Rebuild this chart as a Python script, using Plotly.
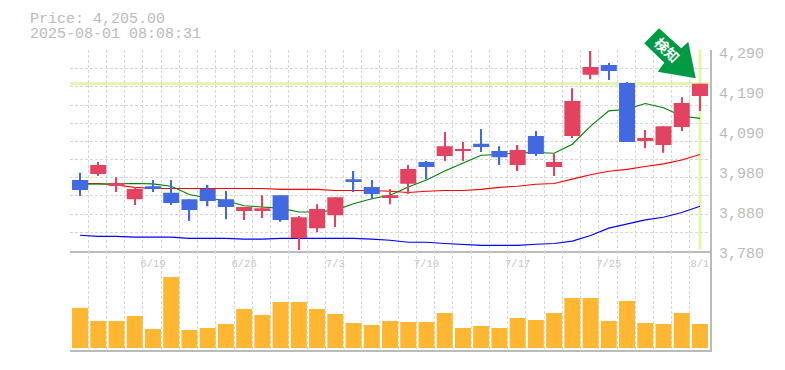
import plotly.graph_objects as go

dates = ["6/13","6/16","6/17","6/18","6/19","6/20","6/23","6/24","6/25","6/26","6/27","6/30",
         "7/1","7/2","7/3","7/4","7/7","7/8","7/9","7/10","7/11","7/14","7/15","7/16","7/17","7/18",
         "7/22","7/23","7/24","7/25","7/28","7/29","7/30","7/31","8/1"]
opens = [3960,3975,3947,3911,3944,3927,3911,3937,3911,3881,3881,3921,3812,3837,3870,3962,3942,3916,3950,4006,
         4021,4036,4052,4034,3998,4072,3993,4072,4228,4253,4207,4059,4049,4095,4174]
highs = [3978,4006,3967,3942,3960,3960,3911,3947,3932,3891,3921,3921,3868,3898,3916,3983,3960,3937,3998,4008,
         4082,4057,4090,4046,4049,4085,4026,4194,4289,4258,4210,4087,4097,4171,4205]
lows = [3919,3970,3929,3896,3929,3896,3855,3893,3860,3858,3863,3853,3781,3827,3840,3929,3911,3898,3924,3962,
        4008,4008,4031,3998,3983,4021,3970,4067,4217,4215,4057,4041,4029,4085,4136]
closes = [3934,3998,3952,3937,3937,3901,3883,3906,3891,3891,3888,3858,3865,3886,3916,3957,3924,3921,3988,3993,
          4046,4039,4044,4018,4036,4026,4006,4161,4248,4238,4057,4067,4097,4156,4205]
ma_short = [3949,3949,3950,3951,3950,3944,3923,3914,3907,3894,3891,3888,3878,3878,3883,3899,3912,3921,3942,3960,
            3983,4002,4023,4025,4029,4030,4028,4051,4097,4136,4140,4155,4144,4123,4117]
ma_mid = [3951,3951,3947,3941,3938,3938,3938,3938,3938,3938,3938,3936,3936,3936,3933,3933,3933,3931,3928,3931,
          3933,3933,3936,3941,3944,3949,3951,3962,3973,3982,3987,3994,4001,4011,4025]
ma_long = [3819,3816,3816,3814,3814,3814,3811,3811,3811,3809,3809,3811,3811,3811,3811,3811,3809,3806,3801,3801,
           3798,3796,3793,3793,3793,3796,3798,3804,3818,3837,3848,3858,3865,3877,3893]
volumes = [40,27,27,32,19,71,18,20,24,39,33,46,46,39,34,25,23,27,26,26,35,20,22,20,30,28,35,50,50,27,47,25,24,35,24]
tick_dates = ["6/19","6/26","7/3","7/10","7/17","7/25","8/1"]
price_ticks = [4290,4188,4086,3984,3882,3780]
price_labels = ["4,290","4,190","4,090","3,980","3,880","3,780"]
last_price = 4205
title_lines = ["Price: 4,205.00","2025-08-01 08:08:31"]
badge = "検知"

GRID="#d6d6d6"; FRAME="#bbbbbb"; TXT="#bbbbbb"; MONO="Liberation Mono"
UP="#e34360"; DOWN="#4169e1"; VOL="#ffb733"; MARK="#e2f5a8"

OFF=8                       # the page's own body margin
W,H=785-OFF,370-OFF
L,R,T,B=70-OFF,75,50-OFF,20
PW=W-L-R; PH=H-T-B
split=(350-250.5)/PH
n=len(dates)
x=list(range(n))
xr=[-0.55,n-1+0.55]
yr=[3780,4291.3]
minor_x=[i-0.55 for i in x]
minor_y=[3780+k*510/11 for k in range(12)]
colors=[UP if c>=o else DOWN for o,c in zip(opens,closes)]

fig=go.Figure()
for vals,col in [(ma_long,"#0000ff"),(ma_mid,"#ff0000"),(ma_short,"#008000")]:
    fig.add_trace(go.Scatter(x=x,y=vals,mode="lines",line=dict(color=col,width=1.1),xaxis="x",yaxis="y",hoverinfo="skip"))
fig.add_trace(go.Bar(x=x,y=[h-l for h,l in zip(highs,lows)],base=lows,width=1.4/18.235,
    marker=dict(color=colors,line=dict(width=0)),xaxis="x",yaxis="y3",hoverinfo="skip"))
fig.add_trace(go.Bar(x=x,y=[abs(c-o) for o,c in zip(opens,closes)],base=[min(o,c) for o,c in zip(opens,closes)],width=16/18.235,
    marker=dict(color=colors,line=dict(width=0)),xaxis="x",yaxis="y3",
    customdata=list(zip(opens,highs,lows,closes)),hovertemplate="O %{customdata[0]} H %{customdata[1]} L %{customdata[2]} C %{customdata[3]}<extra></extra>"))
fig.add_trace(go.Bar(x=x,y=volumes,marker=dict(color=VOL,line=dict(width=0)),width=16/18.235,xaxis="x2",yaxis="y2"))

def px(p): return (p-70)/PW
def py(p): return (350-p)/PH
arrow=[(659,28.3),(644.3,43.3),(664.3,62.7),(657.7,71.7),(695.7,78.3),(688.3,41.7),(681.3,48.3)]
path="M "+" L ".join(f"{px(a):.4f},{py(b):.4f}" for a,b in arrow)+" Z"

fig.update_layout(
    width=W,height=H,margin=dict(l=L,r=R,t=T,b=B,autoexpand=False),barmode="overlay",
    paper_bgcolor="white",plot_bgcolor="white",showlegend=False,
    xaxis=dict(domain=[0,1],anchor="y",range=xr,
        tickmode="array",tickvals=[dates.index(d) for d in tick_dates],ticktext=tick_dates,
        tickfont=dict(family=MONO,size=10.5,color="#c4c4c4"),ticks="",showgrid=False,zeroline=False,ticklabelstandoff=2,
        showline=True,linecolor=FRAME,linewidth=1.5,
        minor=dict(tickmode="array",tickvals=minor_x,showgrid=True,gridcolor=GRID,griddash="3px,2px",gridwidth=1,ticks="")),
    xaxis2=dict(domain=[0,1],anchor="y2",range=xr,showticklabels=False,ticks="",showgrid=False,zeroline=False,
        showline=True,linecolor=FRAME,linewidth=2,
        minor=dict(tickmode="array",tickvals=minor_x,showgrid=True,gridcolor=GRID,griddash="3px,2px",gridwidth=1,ticks="")),
    yaxis=dict(domain=[split,1],anchor="x",range=yr,side="right",tickmode="array",tickvals=price_ticks,ticktext=price_labels,
        tickfont=dict(family=MONO,size=15,color=TXT),ticks="",showgrid=False,zeroline=False,ticklabelstandoff=4,ticklabelshift=2,
        showline=True,linecolor=FRAME,linewidth=2,
        minor=dict(tickmode="array",tickvals=minor_y,showgrid=True,gridcolor=GRID,griddash="3px,2px",gridwidth=1,ticks="")),
    yaxis3=dict(overlaying="y",anchor="x",range=yr,side="right",visible=False,showgrid=False,zeroline=False),
    yaxis2=dict(domain=[0,split],anchor="x2",range=[-2,97.5],side="right",showticklabels=False,ticks="",showgrid=False,zeroline=False,
        showline=True,linecolor=FRAME,linewidth=2),
    shapes=[
        dict(type="line",xref="x domain",yref="y",x0=0,x1=1,y0=last_price,y1=last_price,line=dict(color=MARK,width=3),layer="below"),
        dict(type="line",xref="x",yref="y domain",x0=n-1,x1=n-1,y0=0.005,y1=1,line=dict(color=MARK,width=3),layer="below"),
        dict(type="path",xref="paper",yref="paper",path=path,fillcolor="#009944",line=dict(width=0),layer="above"),
        dict(type="line",xref="paper",yref="paper",x0=px(658),y0=py(43),x1=px(674),y1=py(59),line=dict(width=0,color="#009944"),layer="above",
             label=dict(text=f"<b>{badge}</b>",textangle=45,textposition="middle",xanchor="center",yanchor="middle",padding=0,
                        font=dict(family="Noto Sans CJK JP",size=14,color="white"))),
    ],
    annotations=[
        dict(xref="paper",yref="paper",x=px(28),y=py(18.5),text=title_lines[0],showarrow=False,xanchor="left",yanchor="middle",height=14,
             font=dict(family=MONO,size=15,color=TXT)),
        dict(xref="paper",yref="paper",x=px(28),y=py(33.5),text=title_lines[1],showarrow=False,xanchor="left",yanchor="middle",height=14,
             font=dict(family=MONO,size=15,color=TXT)),
    ],
)
fig.write_html("out.html")
